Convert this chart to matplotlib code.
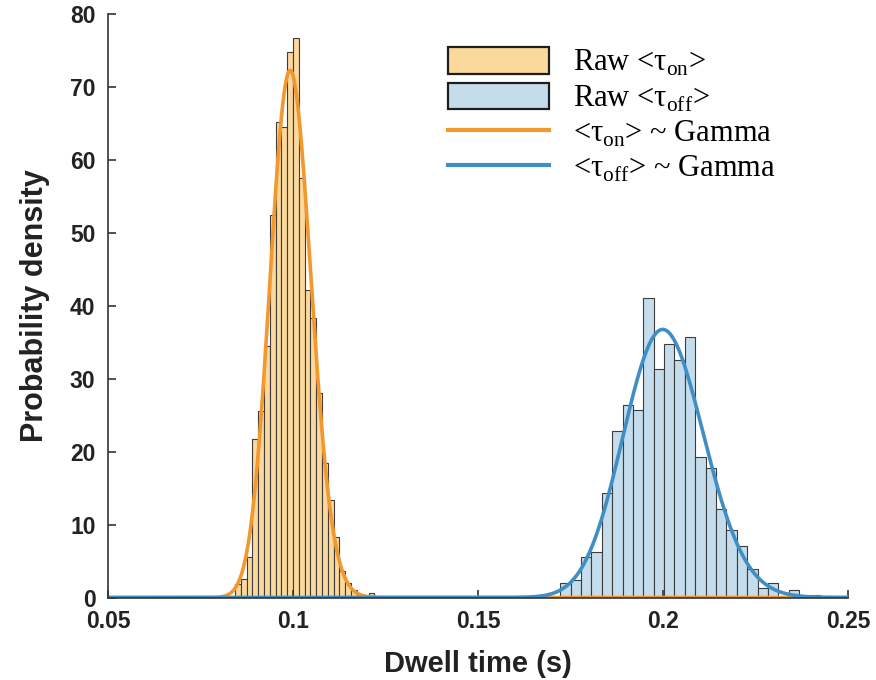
import matplotlib
matplotlib.use('Agg')
import math
import numpy as np
import matplotlib.pyplot as plt
from matplotlib.patches import Patch
from matplotlib.lines import Line2D

# histogram of <tau_on>: first bin edge, bin width, densities
on_start = 0.0843
on_width = 0.00157
on_dens = [1.8, 2.5, 5.6, 21.8, 25.6, 34.5, 52.4, 65.2, 64.5, 74.8, 76.7, 57.5,
           42.1, 38.3, 28.0, 18.4, 13.4, 8.3, 3.7, 2.0, 1.0, 0.0, 0.0, 0.6]

# histogram of <tau_off>
off_start = 0.1722
off_width = 0.00281
off_dens = [2.0, 2.4, 5.6, 6.3, 14.3, 22.9, 26.4, 25.7, 41.1, 31.4, 34.7, 32.5,
            35.7, 19.3, 17.8, 12.1, 9.2, 7.1, 3.9, 1.3, 2.0, 0.0, 1.0, 0.0, 0.3]

xticks = [0.05, 0.1, 0.15, 0.2, 0.25]
xticklabels = ['0.05', '0.1', '0.15', '0.2', '0.25']
yticks = [0, 10, 20, 30, 40, 50, 60, 70, 80]

labels = [r'Raw <τ$_{\mathrm{on}}$>', r'Raw <τ$_{\mathrm{off}}$>',
          r'<τ$_{\mathrm{on}}$> ~ Gamma', r'<τ$_{\mathrm{off}}$> ~ Gamma']

c_on_fill = '#FBD89C'
c_off_fill = '#C4DCEB'
c_on_line = '#F2982C'
c_off_line = '#3F8FC5'
c_edge = '#3c3c3c'

plt.rcParams['mathtext.fontset'] = 'custom'
plt.rcParams['mathtext.rm'] = 'Liberation Serif'


def gamma_fit(start, width, dens):
    # method of moments gamma fit to the histogram
    h = np.array(dens)
    c = start + width * (np.arange(len(h)) + 0.5)
    w = h * width / np.sum(h * width)
    m = np.sum(c * w)
    v = np.sum((c - m) ** 2 * w)
    return m * m / v, v / m


def gamma_pdf(x, k, th):
    return np.exp((k - 1) * np.log(x) - x / th - math.lgamma(k) - k * np.log(th))


fig = plt.figure(figsize=(8.76, 6.8), dpi=100)
ax = fig.add_axes([0.1233, 0.1213, 0.8447, 0.858])

on_edges = on_start + on_width * np.arange(len(on_dens))
off_edges = off_start + off_width * np.arange(len(off_dens))

ax.bar(on_edges, on_dens, width=on_width, align='edge', color=c_on_fill,
       edgecolor=c_edge, linewidth=0.8)
ax.bar(off_edges, off_dens, width=off_width, align='edge', color=c_off_fill,
       edgecolor=c_edge, linewidth=0.8)

xx = np.linspace(0.05, 0.25, 1200)
k1, t1 = gamma_fit(on_start, on_width, on_dens)
k2, t2 = gamma_fit(off_start, off_width, off_dens)
ax.plot(xx, gamma_pdf(xx, k1, t1), color=c_on_line, lw=2.6)
ax.plot(xx, gamma_pdf(xx, k2, t2), color=c_off_line, lw=2.6)

ax.set_xlim(0.05, 0.25)
ax.set_ylim(0, 80)
ax.set_xticks(xticks)
ax.set_xticklabels(xticklabels)
ax.set_yticks(yticks)
for s in ['top', 'right']:
    ax.spines[s].set_visible(False)
for s in ['left', 'bottom']:
    ax.spines[s].set_color('#333333')
    ax.spines[s].set_linewidth(1.2)
ax.tick_params(direction='in', length=6, width=1.2, color='#333333',
               labelsize=16.5, pad=9)
for t in ax.get_xticklabels() + ax.get_yticklabels():
    t.set_fontfamily('Liberation Sans')
    t.set_fontweight('bold')
    t.set_color('#222222')

ax.set_xlabel('Dwell time (s)', fontsize=21, fontweight='bold',
              family='Liberation Sans', color='#222222', labelpad=12)
ax.set_ylabel('Probability density', fontsize=22, fontweight='bold',
              family='Liberation Sans', color='#222222', labelpad=14)

handles = [Patch(facecolor=c_on_fill, edgecolor='#1e1e1e', linewidth=1.6),
           Patch(facecolor=c_off_fill, edgecolor='#1e1e1e', linewidth=1.6),
           Line2D([], [], color=c_on_line, lw=3),
           Line2D([], [], color=c_off_line, lw=3)]
leg = ax.legend(handles, labels, loc='upper right', bbox_to_anchor=(0.94, 0.99),
                frameon=False, prop={'family': 'Liberation Serif', 'size': 22},
                handlelength=3.3, handleheight=0.95, labelspacing=0.15,
                handletextpad=0.8)

plt.savefig('out.png', dpi=100)
